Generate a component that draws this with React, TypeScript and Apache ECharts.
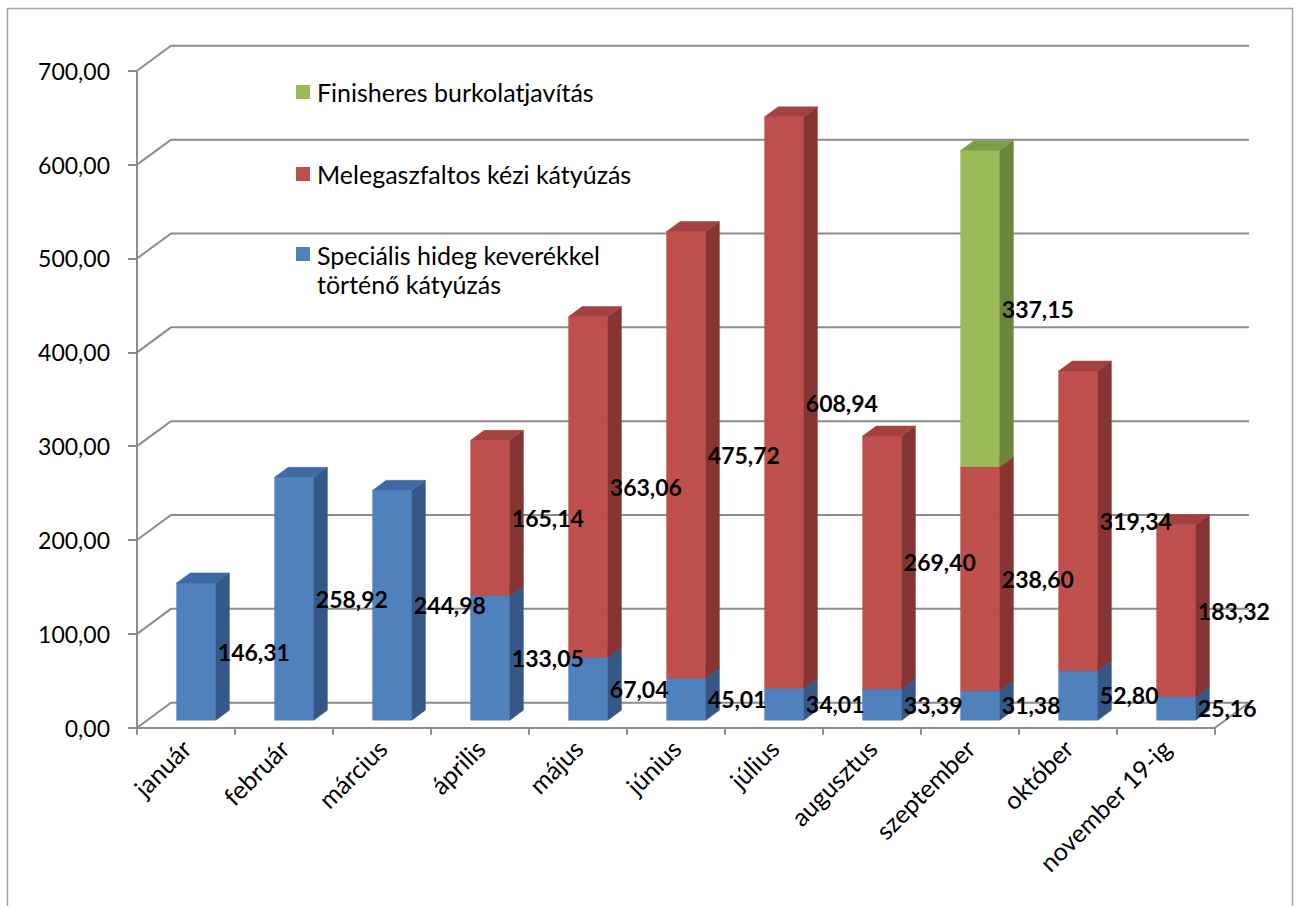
import React, { useEffect, useRef } from "react";
import * as echarts from "echarts";

const categories = [
  "január",
  "február",
  "március",
  "április",
  "május",
  "június",
  "július",
  "augusztus",
  "szeptember",
  "október",
  "november 19-ig",
];
const seriesNames = [
  "Speciális hideg keverékkel történő kátyúzás",
  "Melegaszfaltos kézi kátyúzás",
  "Finisheres burkolatjavítás",
];
const legendLabels = [
  "Speciális hideg keverékkel\ntörténő kátyúzás",
  "Melegaszfaltos kézi kátyúzás",
  "Finisheres burkolatjavítás",
];
const coldMix = [146.31, 258.92, 244.98, 133.05, 67.04, 45.01, 34.01, 33.39, 31.38, 52.8, 25.16];
const hotAsphalt = [null, null, null, 165.14, 363.06, 475.72, 608.94, 269.4, 238.6, 319.34, 183.32];
const finisher = [null, null, null, null, null, null, null, null, 337.15, null, null];
const yTicks = [0, 100, 200, 300, 400, 500, 600, 700];

const seriesValues = [coldMix, hotAsphalt, finisher];
const palette = [
  { front: "#4F81BD", side: "#355886", top: "#3F6BA3" },
  { front: "#C0504D", side: "#863533", top: "#A34240" },
  { front: "#9BBB59", side: "#6C873B", top: "#7E9D47" },
];

const FONT = "Lato, 'Open Sans', sans-serif";
const GRID_COLOR = "#8c8c8c";
const DX = 34;
const DY = -25;
const F0 = 0.3;
const F1 = 0.7;
const BAR_RATIO = 0.4;

const fmt = (v: number) => v.toFixed(2).replace(".", ",");

function buildSegments() {
  const cum = categories.map(() => 0);
  return seriesValues.map((vals) =>
    vals
      .map((v, i) => {
        if (v == null) return null;
        const base = cum[i];
        cum[i] += v;
        return [i, base, base + v, v];
      })
      .filter((d) => d != null) as number[][]
  );
}

function barGeom(api: any) {
  const cat = api.value(0);
  const base = api.value(1);
  const top = api.value(2);
  const p0 = api.coord([cat, base]);
  const p1 = api.coord([cat, top]);
  const band = api.size([1, 0])[0];
  const w = band * BAR_RATIO;
  const xl = p0[0] - w / 2 + DX * F0;
  const xr = xl + w;
  const yb = p0[1] + DY * F0;
  const yt = p1[1] + DY * F0;
  const dx = DX * (F1 - F0);
  const dy = DY * (F1 - F0);
  return { xl, xr, yb, yt, dx, dy, w };
}

export default function App() {
  const ref = useRef<HTMLDivElement>(null);
  useEffect(() => {
    if (!ref.current) return;
    const chart = echarts.init(ref.current, undefined, { renderer: "svg" });
    const segments = buildSegments();
    const allSegments = segments.flat();

    const barSeries = segments.map((data, si) => ({
      name: seriesNames[si],
      type: "custom",
      z: 3,
      data,
      encode: { x: 0, y: [1, 2] },
      renderItem: (_p: any, api: any) => {
        const g = barGeom(api);
        const c = palette[si];
        return {
          type: "group",
          children: [
            {
              type: "rect",
              shape: { x: g.xl, y: g.yt, width: g.w, height: g.yb - g.yt },
              style: { fill: c.front, stroke: c.front, lineWidth: 0.5 },
            },
            {
              type: "polygon",
              shape: {
                points: [
                  [g.xr, g.yb],
                  [g.xr + g.dx, g.yb + g.dy],
                  [g.xr + g.dx, g.yt + g.dy],
                  [g.xr, g.yt],
                ],
              },
              style: { fill: c.side, stroke: c.side, lineWidth: 0.5 },
            },
            {
              type: "polygon",
              shape: {
                points: [
                  [g.xl, g.yt],
                  [g.xl + g.dx, g.yt + g.dy],
                  [g.xr + g.dx, g.yt + g.dy],
                  [g.xr, g.yt],
                ],
              },
              style: { fill: c.top, stroke: c.top, lineWidth: 0.5 },
            },
          ],
        };
      },
    }));

    const wallSeries = {
      type: "custom",
      name: "walls",
      z: 1,
      silent: true,
      data: yTicks.map((v) => [0, v]),
      encode: { x: 0, y: 1 },
      renderItem: (_p: any, api: any) => {
        const v = api.value(1);
        const band = api.size([1, 0])[0];
        const pL = api.coord([0, v]);
        const pR = api.coord([categories.length - 1, v]);
        const x0 = pL[0] - band / 2;
        const x1 = pR[0] + band / 2;
        const y = pL[1];
        const children: any[] = [
          {
            type: "polyline",
            shape: {
              points: [
                [x0, y],
                [x0 + DX, y + DY],
                [x1 + DX, y + DY],
              ],
            },
            style: { stroke: GRID_COLOR, lineWidth: 2, fill: "none" },
          },
        ];
        if (v === 0) {
          children.push({
            type: "line",
            shape: { x1: x1, y1: y, x2: x1 + DX, y2: y + DY },
            style: { stroke: GRID_COLOR, lineWidth: 2 },
          });
        }
        return { type: "group", children };
      },
    };

    const labelSeries = {
      type: "custom",
      name: "labels",
      z: 10,
      silent: true,
      data: allSegments,
      encode: { x: 0, y: [1, 2] },
      renderItem: (_p: any, api: any) => {
        const g = barGeom(api);
        return {
          type: "text",
          style: {
            text: fmt(api.value(3)),
            x: g.xr + 2,
            y: (g.yb + g.yt) / 2,
            align: "left",
            verticalAlign: "middle",
            fill: "#000",
            font: `bold 23px ${FONT}`,
          },
        };
      },
    };

    const legendGraphics: any[] = [];
    const legendRows = [
      { idx: 2, y: 92 },
      { idx: 1, y: 174 },
      { idx: 0, y: 269, boxY: 254 },
    ];
    legendRows.forEach((r) => {
      legendGraphics.push({
        type: "rect",
        shape: { x: 296, y: (r.boxY ?? r.y) - 7, width: 14, height: 14 },
        style: { fill: palette[r.idx].front },
      });
      legendGraphics.push({
        type: "text",
        x: 317,
        y: r.y,
        style: {
          text: legendLabels[r.idx],
          fill: "#000",
          font: `25px ${FONT}`,
          lineHeight: 29,
          align: "left",
          verticalAlign: "middle",
        },
      });
    });

    chart.setOption({
      animation: false,
      backgroundColor: "#ffffff",
      grid: { left: 137, right: 83, top: 70.8, bottom: 178.3, containLabel: false },
      xAxis: {
        type: "category",
        data: categories,
        boundaryGap: true,
        axisLine: { show: true, lineStyle: { color: GRID_COLOR, width: 2 } },
        axisTick: { show: true, length: 7, interval: 0, lineStyle: { color: GRID_COLOR, width: 2 } },
        axisLabel: {
          interval: 0,
          rotate: 45,
          margin: 16,
          color: "#000",
          fontSize: 25,
          fontFamily: FONT,
        },
        splitLine: { show: false },
      },
      yAxis: {
        type: "value",
        min: 0,
        max: 700,
        interval: 100,
        axisLine: { show: true, lineStyle: { color: GRID_COLOR, width: 2 } },
        axisTick: { show: true, length: 9, lineStyle: { color: GRID_COLOR, width: 2 } },
        axisLabel: {
          margin: 27,
          color: "#000",
          fontSize: 23,
          fontFamily: FONT,
          formatter: (v: number) => fmt(v),
        },
        splitLine: { show: false },
      },
      graphic: [
        {
          type: "rect",
          shape: { x: 7.5, y: 8.5, width: 1285, height: 930 },
          style: { fill: "none", stroke: "#a6a6a6", lineWidth: 1.5 },
          silent: true,
          z: -1,
        },
        ...legendGraphics,
      ],
      series: [wallSeries, ...barSeries, labelSeries],
    });
    return () => chart.dispose();
  }, []);
  return (
    <div
      ref={ref}
      style={{ position: "fixed", left: 0, top: 0, width: 1298, height: 906 }}
    />
  );
}
